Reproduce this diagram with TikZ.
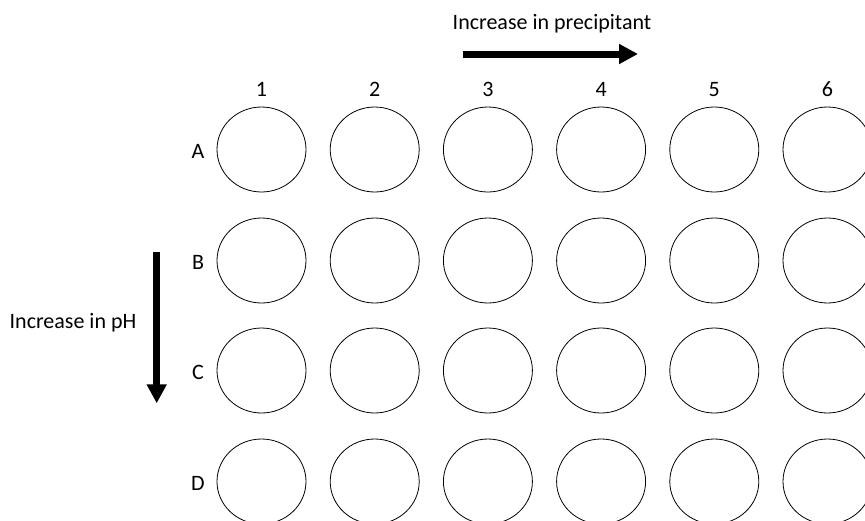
\documentclass[tikz,border=0pt]{standalone}
\usepackage{fontspec}
\setmainfont{Carlito}
\usetikzlibrary{arrows.meta,shapes.geometric}
\tikzset{
  well/.style={draw,ellipse,line width=0.8pt,minimum width=89pt,minimum height=85pt,inner sep=0pt},
  platelabel/.style={font=\fontsize{22}{26}\selectfont,inner sep=0pt},
  trendarrow/.style={line width=7pt,-{Triangle[length=19pt,width=19pt]}}
}
\begin{document}
\begin{tikzpicture}[x=1pt,y=-1pt]
        \useasboundingbox (0,0) rectangle (865,520);
        % column numbers
        \foreach \c [count=\i from 0] in {1,...,6}
          \node[platelabel,anchor=base] (col\c) at (261.5+113.2*\i,96.5) {\c};
        % rows of wells
        \foreach \r/\ry in {A/149.5,B/260.5,C/370.5,D/481.5}{
          \node[platelabel] (row\r) at (198,\ry+1.5) {\r};
          \foreach \c [count=\i from 0] in {1,...,6}
            \node[well] (well\r\c) at (261.5+113.2*\i,\ry) {};
        }
        % precipitant trend
        \node[platelabel,anchor=base] (precipText) at (552,29.3) {Increase in precipitant};
        \coordinate (precipStart) at (463,54);
        \coordinate (precipEnd) at (638,54);
        \draw[trendarrow] (precipStart) -- (precipEnd);
        % pH trend
        \node[platelabel,anchor=base] (phText) at (73,328.3) {Increase in pH};
        \coordinate (phStart) at (156.7,251.7);
        \coordinate (phEnd) at (156.7,403.3);
        \draw[trendarrow] (phStart) -- (phEnd);
      \end{tikzpicture}
\end{document}
